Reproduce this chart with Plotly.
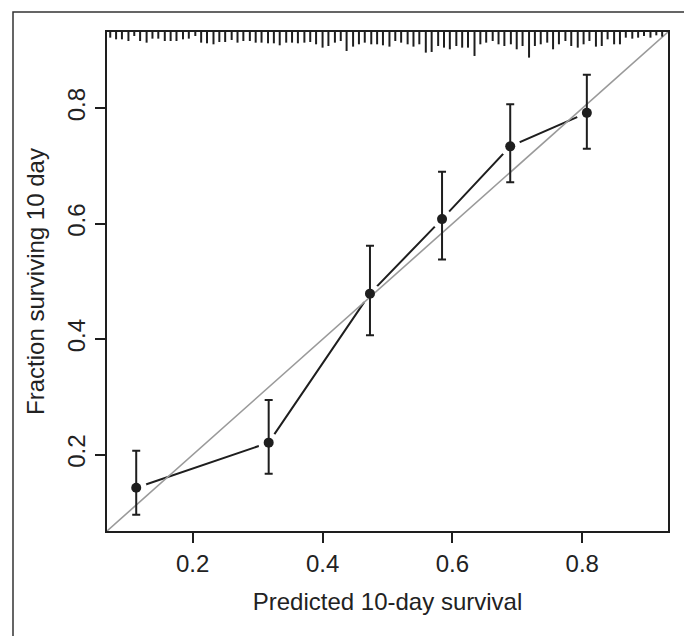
import plotly.graph_objects as go

# calibration points
pred = [0.113, 0.317, 0.473, 0.584, 0.689, 0.807]
obs = [0.143, 0.221, 0.479, 0.608, 0.734, 0.792]
obs_hi = [0.207, 0.295, 0.562, 0.690, 0.807, 0.858]
obs_lo = [0.096, 0.167, 0.407, 0.538, 0.672, 0.730]

# spike histogram (rug) of predicted values along top
rug_x = [0.073, 0.082, 0.091, 0.101, 0.110, 0.119, 0.129, 0.138, 0.147, 0.157,
         0.166, 0.175, 0.185, 0.194, 0.204, 0.213, 0.222, 0.232, 0.241, 0.250,
         0.260, 0.269, 0.278, 0.288, 0.297, 0.306, 0.316, 0.325, 0.334, 0.344,
         0.353, 0.362, 0.372, 0.381, 0.390, 0.400, 0.409, 0.419, 0.428, 0.437,
         0.447, 0.456, 0.465, 0.475, 0.484, 0.493, 0.503, 0.512, 0.521, 0.531,
         0.540, 0.549, 0.559, 0.568, 0.578, 0.587, 0.596, 0.606, 0.615, 0.624,
         0.634, 0.643, 0.652, 0.662, 0.671, 0.680, 0.690, 0.699, 0.708, 0.718,
         0.727, 0.736, 0.746, 0.755, 0.764, 0.774, 0.783, 0.793, 0.802, 0.811,
         0.821, 0.830, 0.839, 0.849, 0.858, 0.867, 0.877, 0.886, 0.895, 0.905,
         0.914, 0.923]
rug_freq = [17, 22, 22, 27, 12, 27, 32, 20, 20, 27, 27, 27, 22, 20, 12, 32, 34, 37, 30, 30,
            24, 32, 27, 27, 32, 32, 34, 34, 40, 32, 32, 34, 32, 30, 37, 47, 42, 32, 27, 57,
            44, 37, 32, 37, 37, 40, 44,
            27, 32, 37, 44, 37, 62, 60, 42, 47, 52, 42, 47, 47, 72, 37, 32, 27, 37, 42,
            37, 52, 42, 77, 42, 37, 32, 52, 37, 27, 42, 47, 37, 27, 44, 42, 22, 37, 37,
            17, 20, 17, 12, 17, 10, 14]

x_ticks = [0.2, 0.4, 0.6, 0.8]
y_ticks = [0.2, 0.4, 0.6, 0.8]
x_title = "Predicted 10-day survival"
y_title = "Fraction surviving 10 day"

lo, hi = 0.068, 0.932
font = "Liberation Sans, Arial, Helvetica, sans-serif"
ink = "#1e1e1e"
txt = "#222222"
fs = 24

fig = go.Figure()

# connecting line
fig.add_trace(go.Scatter(x=pred, y=obs, mode="lines",
                         line=dict(color=ink, width=2), hoverinfo="skip"))
# white gaps around points (R type="b")
fig.add_trace(go.Scatter(x=pred, y=obs, mode="markers",
                         marker=dict(color="white", size=21, line=dict(width=0)),
                         hoverinfo="skip"))
# identity line
fig.add_trace(go.Scatter(x=[0, 1], y=[0, 1], mode="lines",
                         line=dict(color="#9a9a9a", width=1.6), hoverinfo="skip"))
# rug spikes
scale = 1.0 / 3.0 / 578.5
rx, ry = [], []
for xv, fv in zip(rug_x, rug_freq):
    rx += [xv, xv, None]
    ry += [hi, hi - fv * scale, None]
fig.add_trace(go.Scatter(x=rx, y=ry, mode="lines",
                         line=dict(color=ink, width=2), hoverinfo="skip"))
# points with error bars
fig.add_trace(go.Scatter(
    x=pred, y=obs, mode="markers",
    marker=dict(color=ink, size=10),
    error_y=dict(type="data", symmetric=False,
                 array=[h - o for h, o in zip(obs_hi, obs)],
                 arrayminus=[o - l for o, l in zip(obs, obs_lo)],
                 color=ink, thickness=2, width=4),
))

# figure geometry (page body adds 8px offset)
W, H = 684, 628
ML, MT, PW, PH = 99, 24, 561, 499

# outer frame
fig.add_shape(type="rect", xref="paper", yref="paper",
              x0=(5 - ML) / PW, x1=(680 - ML) / PW,
              y0=-0.3, y1=(MT + PH - 4) / PH,
              line=dict(color="#333333", width=1.5), layer="below")

axis_common = dict(
    range=[lo, hi], showgrid=False, zeroline=False,
    showline=True, linecolor=ink, linewidth=2, mirror=True,
    ticks="outside", ticklen=10, tickwidth=2, tickcolor=ink,
    tickfont=dict(family=font, size=fs, color=txt),
)

fig.update_xaxes(**axis_common)
fig.update_xaxes(tickvals=x_ticks, ticktext=[f"{v:.1f}" for v in x_ticks],
                 title=dict(text=x_title, font=dict(family=font, size=fs, color=txt),
                            standoff=17))
fig.update_yaxes(**axis_common)
fig.update_yaxes(tickvals=y_ticks, ticktext=[f"{v:.1f}" for v in y_ticks], tickangle=-90,
                 title=dict(text=y_title, font=dict(family=font, size=fs, color=txt),
                            standoff=12))

fig.update_layout(
    width=W, height=H,
    margin=dict(l=ML, r=W - ML - PW, t=MT, b=H - MT - PH),
    paper_bgcolor="white", plot_bgcolor="white",
    showlegend=False,
    font=dict(family=font),
)

fig.write_html("out.html")
